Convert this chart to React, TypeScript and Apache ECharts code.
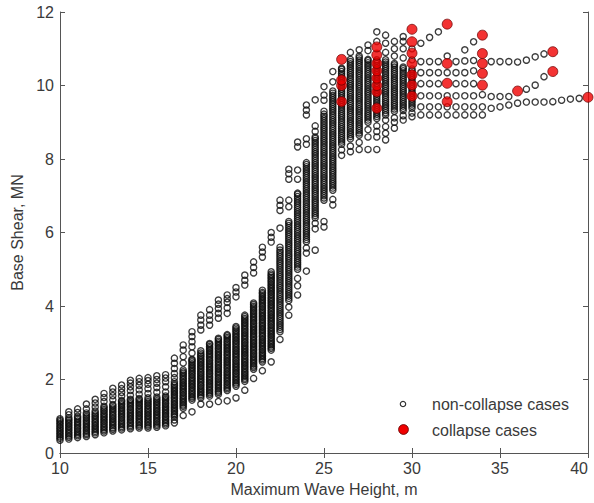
import React, { useEffect, useRef } from "react";
import * as echarts from "echarts";

// Column positions (maximum wave height, m) of the non-collapse cases
const waveHeights: number[] = [
  10, 10.5, 11, 11.5, 12, 12.5, 13, 13.5, 14, 14.5, 15, 15.5, 16, 16.5, 17, 17.5,
  18, 18.5, 19, 19.5, 20, 20.5, 21, 21.5, 22, 22.5, 23, 23.5, 24, 24.5, 25, 25.5,
  26, 26.5, 27, 27.5, 28, 28.5, 29, 29.5, 30, 30.5, 31, 31.5, 32, 32.5, 33, 33.5,
  34, 34.5, 35, 35.5, 36, 36.5, 37, 37.5, 38, 38.5, 39, 39.5,
];

// Base shear values (MN) of the non-collapse cases, one list per column above
const nonCollapseShear: number[][] = [
  [0.35, 0.4, 0.44, 0.49, 0.53, 0.58, 0.62, 0.67, 0.71, 0.76, 0.8, 0.85, 0.89, 0.93],
  [0.38, 0.43, 0.47, 0.52, 0.56, 0.61, 0.65, 0.7, 0.74, 0.79, 0.83, 0.88, 0.92, 0.96, 1.04, 1.12],
  [0.42, 0.47, 0.51, 0.56, 0.6, 0.65, 0.69, 0.74, 0.78, 0.83, 0.87, 0.92, 0.96, 1.0, 1.1, 1.2],
  [0.45, 0.5, 0.54, 0.59, 0.63, 0.68, 0.72, 0.77, 0.81, 0.86, 0.9, 0.95, 0.99, 1.04, 1.09, 1.2, 1.33],
  [0.5, 0.55, 0.59, 0.64, 0.68, 0.73, 0.77, 0.82, 0.86, 0.91, 0.95, 1.0, 1.04, 1.09, 1.14, 1.25, 1.36, 1.46],
  [0.55, 0.6, 0.64, 0.69, 0.73, 0.78, 0.82, 0.87, 0.91, 0.96, 1.0, 1.05, 1.09, 1.14, 1.18, 1.23, 1.27, 1.4, 1.51, 1.62],
  [0.6, 0.65, 0.69, 0.74, 0.78, 0.83, 0.87, 0.92, 0.96, 1.01, 1.05, 1.1, 1.14, 1.19, 1.23, 1.28, 1.32, 1.45, 1.56, 1.66, 1.76],
  [0.63, 0.68, 0.72, 0.77, 0.81, 0.86, 0.9, 0.95, 0.99, 1.04, 1.08, 1.13, 1.17, 1.22, 1.26, 1.31, 1.35, 1.4, 1.43, 1.55, 1.65, 1.75, 1.85],
  [0.66, 0.71, 0.75, 0.8, 0.84, 0.89, 0.93, 0.98, 1.02, 1.07, 1.11, 1.16, 1.2, 1.25, 1.29, 1.34, 1.38, 1.43, 1.46, 1.57, 1.7, 1.8, 1.9, 1.98],
  [0.68, 0.73, 0.77, 0.82, 0.86, 0.91, 0.95, 1.0, 1.04, 1.09, 1.13, 1.18, 1.22, 1.27, 1.31, 1.36, 1.4, 1.45, 1.48, 1.6, 1.72, 1.84, 1.94, 2.03],
  [0.68, 0.73, 0.77, 0.82, 0.86, 0.91, 0.95, 1.0, 1.04, 1.09, 1.13, 1.18, 1.22, 1.27, 1.31, 1.36, 1.4, 1.45, 1.5, 1.62, 1.75, 1.87, 1.97, 2.05],
  [0.7, 0.75, 0.79, 0.84, 0.88, 0.93, 0.97, 1.02, 1.06, 1.11, 1.15, 1.2, 1.24, 1.29, 1.33, 1.38, 1.42, 1.47, 1.52, 1.65, 1.78, 1.9, 2.0, 2.1],
  [0.74, 0.79, 0.83, 0.88, 0.92, 0.97, 1.01, 1.06, 1.1, 1.15, 1.19, 1.24, 1.28, 1.33, 1.37, 1.42, 1.46, 1.51, 1.55, 1.66, 1.8, 1.94, 2.04, 2.13],
  [0.82, 0.9, 0.98, 1.03, 1.07, 1.12, 1.16, 1.21, 1.25, 1.3, 1.34, 1.39, 1.43, 1.48, 1.52, 1.57, 1.61, 1.66, 1.7, 1.75, 1.79, 1.84, 1.88, 1.94, 2.05, 2.16, 2.3, 2.44, 2.58],
  [1.02, 1.22, 1.27, 1.31, 1.36, 1.4, 1.45, 1.49, 1.54, 1.58, 1.63, 1.67, 1.72, 1.76, 1.81, 1.85, 1.9, 1.94, 1.99, 2.03, 2.08, 2.12, 2.17, 2.21, 2.26, 2.45, 2.62, 2.8, 2.94],
  [1.12, 1.44, 1.49, 1.53, 1.58, 1.62, 1.67, 1.71, 1.76, 1.8, 1.85, 1.89, 1.94, 1.98, 2.03, 2.07, 2.12, 2.16, 2.21, 2.25, 2.3, 2.34, 2.39, 2.43, 2.48, 2.52, 2.55, 2.72, 2.89, 3.03, 3.17, 3.3],
  [1.33, 1.5, 1.55, 1.59, 1.64, 1.68, 1.73, 1.77, 1.82, 1.86, 1.91, 1.95, 2.0, 2.04, 2.09, 2.13, 2.18, 2.22, 2.27, 2.31, 2.36, 2.4, 2.45, 2.49, 2.54, 2.58, 2.63, 2.67, 2.72, 2.78, 3.35, 3.48, 3.62, 3.75],
  [1.33, 1.55, 1.6, 1.64, 1.69, 1.73, 1.78, 1.82, 1.87, 1.91, 1.96, 2.0, 2.05, 2.09, 2.14, 2.18, 2.23, 2.27, 2.32, 2.36, 2.41, 2.45, 2.5, 2.54, 2.59, 2.63, 2.68, 2.72, 2.77, 2.81, 2.86, 2.9, 2.95, 2.98, 3.48, 3.62, 3.75, 3.9],
  [1.4, 1.6, 1.65, 1.69, 1.74, 1.78, 1.83, 1.87, 1.92, 1.96, 2.01, 2.05, 2.1, 2.14, 2.19, 2.23, 2.28, 2.32, 2.37, 2.41, 2.46, 2.5, 2.55, 2.59, 2.64, 2.68, 2.73, 2.77, 2.82, 2.86, 2.91, 2.95, 3.0, 3.04, 3.09, 3.12, 3.67, 3.8, 3.93, 4.05, 4.16],
  [1.42, 1.7, 1.75, 1.79, 1.84, 1.88, 1.93, 1.97, 2.02, 2.06, 2.11, 2.15, 2.2, 2.24, 2.29, 2.33, 2.38, 2.42, 2.47, 2.51, 2.56, 2.6, 2.65, 2.69, 2.74, 2.78, 2.83, 2.87, 2.92, 2.96, 3.01, 3.05, 3.1, 3.14, 3.19, 3.22, 3.8, 3.95, 4.1, 4.2, 4.3],
  [1.5, 1.82, 1.87, 1.91, 1.96, 2.0, 2.05, 2.09, 2.14, 2.18, 2.23, 2.27, 2.32, 2.36, 2.41, 2.45, 2.5, 2.54, 2.59, 2.63, 2.68, 2.72, 2.77, 2.81, 2.86, 2.9, 2.95, 2.99, 3.04, 3.08, 3.13, 3.17, 3.22, 3.26, 3.31, 3.35, 3.4, 3.44, 4.25, 4.38, 4.5],
  [1.71, 1.95, 2.0, 2.04, 2.09, 2.13, 2.18, 2.22, 2.27, 2.31, 2.36, 2.4, 2.45, 2.49, 2.54, 2.58, 2.63, 2.67, 2.72, 2.76, 2.81, 2.85, 2.9, 2.94, 2.99, 3.03, 3.08, 3.12, 3.17, 3.21, 3.26, 3.3, 3.35, 3.39, 3.44, 3.48, 3.53, 3.57, 3.62, 3.66, 3.71, 3.75, 4.57, 4.7, 4.84],
  [2.03, 2.28, 2.33, 2.37, 2.42, 2.46, 2.51, 2.55, 2.6, 2.64, 2.69, 2.73, 2.78, 2.82, 2.87, 2.91, 2.96, 3.0, 3.05, 3.09, 3.14, 3.18, 3.23, 3.27, 3.32, 3.36, 3.41, 3.45, 3.5, 3.54, 3.59, 3.63, 3.68, 3.72, 3.77, 3.81, 3.86, 3.9, 3.95, 3.99, 4.04, 4.08, 4.9, 5.05, 5.2],
  [2.24, 2.48, 2.53, 2.57, 2.62, 2.66, 2.71, 2.75, 2.8, 2.84, 2.89, 2.93, 2.98, 3.02, 3.07, 3.11, 3.16, 3.2, 3.25, 3.29, 3.34, 3.38, 3.43, 3.47, 3.52, 3.56, 3.61, 3.65, 3.7, 3.74, 3.79, 3.83, 3.88, 3.92, 3.97, 4.01, 4.06, 4.1, 4.15, 4.19, 4.24, 4.28, 4.33, 4.37, 4.43, 5.33, 5.47, 5.6],
  [2.48, 2.8, 2.85, 2.89, 2.94, 2.98, 3.03, 3.07, 3.12, 3.16, 3.21, 3.25, 3.3, 3.34, 3.39, 3.43, 3.48, 3.52, 3.57, 3.61, 3.66, 3.7, 3.75, 3.79, 3.84, 3.88, 3.93, 3.97, 4.02, 4.06, 4.11, 4.15, 4.2, 4.24, 4.29, 4.33, 4.38, 4.42, 4.47, 4.51, 4.56, 4.6, 4.65, 4.69, 4.74, 4.78, 4.83, 4.87, 4.93, 5.74, 5.87, 6.0],
  [3.09, 3.3, 3.36, 3.42, 3.48, 3.54, 3.6, 3.66, 3.72, 3.78, 3.84, 3.9, 3.96, 4.02, 4.08, 4.14, 4.2, 4.26, 4.32, 4.38, 4.44, 4.5, 4.56, 4.62, 4.68, 4.74, 4.8, 4.86, 4.92, 4.98, 5.04, 5.1, 5.16, 5.22, 5.28, 5.34, 5.4, 5.46, 5.52, 5.6, 6.12, 6.6, 6.74, 6.88],
  [3.75, 3.97, 4.15, 4.21, 4.27, 4.33, 4.39, 4.45, 4.51, 4.57, 4.63, 4.69, 4.75, 4.81, 4.87, 4.93, 4.99, 5.05, 5.11, 5.17, 5.23, 5.29, 5.35, 5.41, 5.47, 5.53, 5.59, 5.65, 5.71, 5.77, 5.83, 5.89, 5.95, 6.01, 6.07, 6.13, 6.19, 6.25, 6.3, 6.7, 6.88, 7.45, 7.6, 7.72],
  [4.3, 4.55, 4.75, 5.0, 5.06, 5.12, 5.18, 5.24, 5.3, 5.36, 5.42, 5.48, 5.54, 5.6, 5.66, 5.72, 5.78, 5.84, 5.9, 5.96, 6.02, 6.08, 6.14, 6.2, 6.26, 6.32, 6.38, 6.44, 6.5, 6.56, 6.62, 6.68, 6.74, 6.8, 6.86, 6.92, 6.98, 7.04, 7.07, 7.45, 7.7, 8.33, 8.46],
  [4.95, 5.44, 5.58, 5.75, 5.81, 5.87, 5.93, 5.99, 6.05, 6.11, 6.17, 6.23, 6.29, 6.35, 6.41, 6.47, 6.53, 6.59, 6.65, 6.71, 6.77, 6.83, 6.89, 6.95, 7.01, 7.07, 7.13, 7.19, 7.25, 7.31, 7.37, 7.43, 7.49, 7.55, 7.61, 7.67, 7.73, 7.79, 7.85, 7.9, 8.4, 8.55, 9.2, 9.33, 9.47],
  [5.52, 6.1, 6.25, 6.4, 6.46, 6.52, 6.58, 6.64, 6.7, 6.76, 6.82, 6.88, 6.94, 7.0, 7.06, 7.12, 7.18, 7.24, 7.3, 7.36, 7.42, 7.48, 7.54, 7.6, 7.66, 7.72, 7.78, 7.84, 7.9, 7.96, 8.02, 8.08, 8.14, 8.2, 8.26, 8.32, 8.38, 8.44, 8.5, 8.56, 8.6, 8.75, 8.9, 9.61],
  [6.15, 6.3, 6.88, 6.94, 7.0, 7.06, 7.12, 7.18, 7.24, 7.3, 7.36, 7.42, 7.48, 7.54, 7.6, 7.66, 7.72, 7.78, 7.84, 7.9, 7.96, 8.02, 8.08, 8.14, 8.2, 8.26, 8.32, 8.38, 8.44, 8.5, 8.56, 8.62, 8.68, 8.74, 8.8, 8.86, 8.92, 8.98, 9.04, 9.1, 9.16, 9.22, 9.3, 9.6, 9.74, 9.97],
  [6.75, 6.9, 7.15, 7.21, 7.27, 7.33, 7.39, 7.45, 7.51, 7.57, 7.63, 7.69, 7.75, 7.81, 7.87, 7.93, 7.99, 8.05, 8.11, 8.17, 8.23, 8.29, 8.35, 8.41, 8.47, 8.53, 8.59, 8.65, 8.71, 8.77, 8.83, 8.89, 8.95, 9.01, 9.07, 9.13, 9.19, 9.25, 9.31, 9.37, 9.43, 9.49, 9.55, 9.61, 9.67, 9.73, 9.79, 9.85, 10.1, 10.38],
  [8.1, 8.25, 8.4, 8.46, 8.52, 8.58, 8.64, 8.7, 8.76, 8.82, 8.88, 8.94, 9.0, 9.06, 9.12, 9.18, 9.24, 9.3, 9.36, 9.42, 9.48, 9.54, 9.6, 9.66, 9.72, 9.78, 9.84, 9.9, 9.96, 10.02, 10.08, 10.14, 10.2, 10.26, 10.32, 10.38, 10.44, 10.47],
  [8.2, 8.35, 8.55, 8.61, 8.67, 8.73, 8.79, 8.85, 8.91, 8.97, 9.03, 9.09, 9.15, 9.21, 9.27, 9.33, 9.39, 9.45, 9.51, 9.57, 9.63, 9.69, 9.75, 9.81, 9.87, 9.93, 9.99, 10.05, 10.11, 10.17, 10.23, 10.29, 10.35, 10.41, 10.47, 10.53, 10.59, 10.65, 10.71, 10.9],
  [8.26, 8.45, 8.65, 8.71, 8.77, 8.83, 8.89, 8.95, 9.01, 9.07, 9.13, 9.19, 9.25, 9.31, 9.37, 9.43, 9.49, 9.55, 9.61, 9.67, 9.73, 9.79, 9.85, 9.91, 9.97, 10.03, 10.09, 10.15, 10.21, 10.27, 10.33, 10.39, 10.45, 10.51, 10.57, 10.63, 10.69, 10.75, 10.8, 10.97],
  [8.26, 8.6, 8.8, 9.0, 9.06, 9.12, 9.18, 9.24, 9.3, 9.36, 9.42, 9.48, 9.54, 9.6, 9.66, 9.72, 9.78, 9.84, 9.9, 9.96, 10.02, 10.08, 10.14, 10.2, 10.26, 10.32, 10.38, 10.44, 10.5, 10.56, 10.62, 10.68, 10.71, 10.95, 11.1],
  [8.26, 8.6, 8.75, 8.9, 9.1, 9.16, 9.22, 9.28, 9.34, 9.4, 9.46, 9.52, 9.58, 9.64, 9.7, 9.76, 9.82, 9.88, 9.94, 10.0, 10.06, 10.12, 10.18, 10.24, 10.3, 10.36, 10.42, 10.48, 10.54, 10.6, 10.66, 10.7, 11.2, 11.46],
  [8.52, 8.7, 8.88, 9.06, 9.2, 9.26, 9.32, 9.38, 9.44, 9.5, 9.56, 9.62, 9.68, 9.74, 9.8, 9.86, 9.92, 9.98, 10.04, 10.1, 10.16, 10.22, 10.28, 10.34, 10.4, 10.46, 10.52, 10.58, 10.64, 10.7, 10.9, 11.15, 11.37],
  [8.84, 9.0, 9.12, 9.3, 9.36, 9.42, 9.48, 9.54, 9.6, 9.66, 9.72, 9.78, 9.84, 9.9, 9.96, 10.02, 10.08, 10.14, 10.2, 10.26, 10.32, 10.38, 10.44, 10.5, 10.56, 10.6, 10.8, 11.0, 11.2],
  [9.06, 9.18, 9.32, 9.38, 9.44, 9.5, 9.56, 9.62, 9.68, 9.74, 9.8, 9.86, 9.92, 9.98, 10.04, 10.1, 10.16, 10.22, 10.28, 10.34, 10.4, 10.46, 10.5, 10.75, 11.0, 11.2, 11.33],
  [9.15, 9.25, 9.38, 9.44, 9.5, 9.56, 9.62, 9.68, 9.74, 9.8, 9.86, 9.92, 9.98, 10.04, 10.1, 10.16, 10.22, 10.28, 10.34, 10.4, 10.45, 10.7, 11.0],
  [9.2, 9.42, 9.72, 10.05, 10.35, 10.65, 11.15],
  [9.2, 9.42, 9.72, 10.05, 10.35, 10.65, 11.31],
  [9.2, 9.42, 9.72, 10.05, 10.35, 10.65, 11.46],
  [9.2, 9.42, 9.72, 10.35, 10.8],
  [9.2, 9.42, 9.72, 10.05, 10.35, 10.65],
  [9.2, 9.42, 9.72, 10.05, 10.35, 10.67, 10.97],
  [9.2, 9.42, 9.72, 10.05, 10.4, 10.68, 11.19],
  [9.2, 9.42, 9.75],
  [9.38, 9.7, 10.65],
  [9.42, 9.7, 10.65],
  [9.47, 9.7, 10.65],
  [9.52, 10.64],
  [9.55, 9.9, 10.69],
  [9.55, 10.01, 10.78],
  [9.55, 10.24, 10.86],
  [9.56],
  [9.6],
  [9.63],
  [9.65],
];

// Collapse cases
const collapseWaveHeights: number[] = [
  26, 26, 26, 26,
  28, 28, 28, 28, 28, 28, 28, 28,
  30, 30, 30, 30, 30, 30, 30,
  32, 32, 32, 32,
  34, 34, 34, 34, 34,
  36, 38, 38, 40,
];
const collapseShear: number[] = [
  9.56, 10.0, 10.15, 10.71,
  9.38, 9.83, 10.0, 10.2, 10.4, 10.6, 10.83, 11.05,
  9.71, 10.01, 10.29, 10.6, 10.88, 11.19, 11.53,
  9.56, 10.06, 10.6, 11.67,
  10.01, 10.33, 10.6, 10.87, 11.37,
  9.85, 10.38, 10.92, 9.68,
];

const xAxisTitle = "Maximum Wave Height, m";
const yAxisTitle = "Base Shear, MN";
const legendLabels = ["non-collapse cases", "collapse cases"];

const FONT = "'Liberation Sans', Arial, Helvetica, sans-serif";
const TEXT = "#3a3a3a";
const AXIS = "#555555";

export default function App() {
  const ref = useRef<HTMLDivElement>(null);

  useEffect(() => {
    if (!ref.current) return;
    const chart = echarts.init(ref.current, undefined, { renderer: "svg" });

    const nonCollapseData: number[][] = [];
    waveHeights.forEach((x, i) => {
      (nonCollapseShear[i] || []).forEach((y) => nonCollapseData.push([x, y]));
    });
    const collapseData = collapseWaveHeights.map((x, i) => [x, collapseShear[i]]);

    const baseX = {
      type: "value" as const,
      min: 10,
      max: 40,
      interval: 5,
      splitLine: { show: false },
      axisLine: { show: true, lineStyle: { color: AXIS, width: 1 } },
      axisTick: { show: true, inside: true, length: 5, lineStyle: { color: AXIS } },
    };
    const baseY = {
      type: "value" as const,
      min: 0,
      max: 12,
      interval: 2,
      splitLine: { show: false },
      axisLine: { show: true, lineStyle: { color: AXIS, width: 1 } },
      axisTick: { show: true, inside: true, length: 5, lineStyle: { color: AXIS } },
    };

    chart.setOption({
      animation: false,
      backgroundColor: "#ffffff",
      textStyle: { fontFamily: FONT },
      grid: { left: 60, right: 6, top: 12, bottom: 50, outerBoundsMode: "none" },
      xAxis: [
        {
          ...baseX,
          position: "bottom",
          name: xAxisTitle,
          nameLocation: "middle",
          nameGap: 28,
          nameTextStyle: { color: TEXT, fontSize: 16, fontFamily: FONT },
          axisLabel: {
            show: true,
            color: TEXT,
            fontSize: 16,
            fontFamily: FONT,
            margin: 7,
            alignMaxLabel: "right",
          },
        },
        {
          ...baseX,
          position: "top",
          axisLabel: { show: false },
        },
      ],
      yAxis: [
        {
          ...baseY,
          position: "left",
          name: yAxisTitle,
          nameLocation: "middle",
          nameGap: 33,
          nameTextStyle: { color: TEXT, fontSize: 16, fontFamily: FONT },
          axisLabel: { show: true, color: TEXT, fontSize: 16, fontFamily: FONT, margin: 6 },
        },
        {
          ...baseY,
          position: "right",
          axisLabel: { show: false },
        },
      ],
      series: [
        {
          name: legendLabels[0],
          type: "scatter",
          xAxisIndex: 0,
          yAxisIndex: 0,
          symbol: "circle",
          symbolSize: 6.2,
          itemStyle: { color: "rgba(0,0,0,0)", borderColor: "#0d0d0d", borderWidth: 1.35 },
          data: nonCollapseData,
          z: 2,
        },
        {
          name: legendLabels[1],
          type: "scatter",
          xAxisIndex: 0,
          yAxisIndex: 0,
          symbol: "circle",
          symbolSize: 10,
          itemStyle: { color: "#f00000", borderColor: "#6a0000", borderWidth: 0.9 },
          data: collapseData,
          z: 3,
        },
      ],
      graphic: [
        {
          type: "circle",
          shape: { cx: 403, cy: 404, r: 2.7 },
          style: { fill: "rgba(0,0,0,0)", stroke: "#333", lineWidth: 1.2 },
        },
        {
          type: "text",
          x: 432,
          y: 404,
          style: { text: legendLabels[0], fill: TEXT, fontSize: 16, fontFamily: FONT, verticalAlign: "middle", align: "left" },
        },
        {
          type: "circle",
          shape: { cx: 403.5, cy: 429.5, r: 4.9 },
          style: { fill: "#f00000", stroke: "#6a0000", lineWidth: 0.9 },
        },
        {
          type: "text",
          x: 432,
          y: 430,
          style: { text: legendLabels[1], fill: TEXT, fontSize: 16, fontFamily: FONT, verticalAlign: "middle", align: "left" },
        },
      ],
    });

    return () => {
      chart.dispose();
    };
  }, []);

  return (
    <div
      ref={ref}
      style={{ position: "fixed", left: 0, top: 0, width: 594, height: 503, background: "#fff" }}
    />
  );
}
